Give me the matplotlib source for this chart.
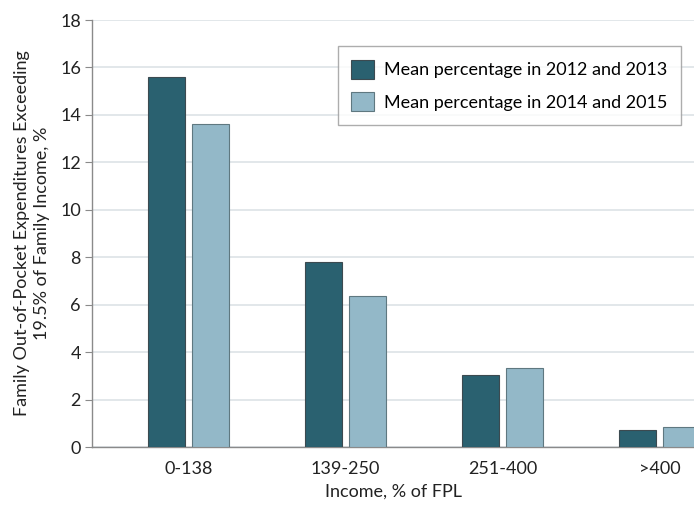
import matplotlib.pyplot as plt
import numpy as np

plt.rcParams['font.family'] = ['Lato', 'DejaVu Sans']

categories = ['0-138', '139-250', '251-400', '>400']
mean_2012_2013 = [15.6, 7.78, 3.05, 0.73]
mean_2014_2015 = [13.62, 6.38, 3.33, 0.84]

dark = '#2a6170'
light = '#93b8c8'
grid = '#dde3e6'
axis_gray = '#8a8a8a'

fig = plt.figure(figsize=(6.94, 5.08), dpi=100)
ax = fig.add_axes([0.1326, 0.12, 0.8674, 0.8406])

x = np.arange(len(categories))
w = 0.236
ax.bar(x - 0.14, mean_2012_2013, w, color=dark, edgecolor='#3c4a50', linewidth=0.8,
       label='Mean percentage in 2012 and 2013', zorder=3)
ax.bar(x + 0.14, mean_2014_2015, w, color=light, edgecolor='#5f7880', linewidth=0.8,
       label='Mean percentage in 2014 and 2015', zorder=3)

ax.set_xlim(-0.615, 3.22)
ax.set_ylim(0, 18)
ax.set_yticks(range(0, 19, 2))
ax.set_xticks(x)
ax.set_xticklabels(categories)
ax.yaxis.grid(True, color=grid, linewidth=1.2, zorder=0)
ax.set_axisbelow(True)

for s in ['top', 'right']:
    ax.spines[s].set_visible(False)
for s in ['left', 'bottom']:
    ax.spines[s].set_color(axis_gray)
    ax.spines[s].set_linewidth(1.0)

ax.tick_params(axis='y', length=5, color=axis_gray, labelsize=13, pad=3, labelcolor='#222222')
ax.tick_params(axis='x', length=0, labelsize=13, pad=10, labelcolor='#222222')

ax.set_ylabel('Family Out-of-Pocket Expenditures Exceeding\n19.5% of Family Income, %',
              fontsize=13, color='#222222', labelpad=7, linespacing=1.35)
ax.set_xlabel('Income, % of FPL', fontsize=13, color='#222222', labelpad=5)

leg = ax.legend(loc='upper right', bbox_to_anchor=(0.978, 0.939), borderaxespad=0,
                fontsize=13, frameon=True, fancybox=False, edgecolor='#999999',
                handlelength=1.25, handleheight=1.25, borderpad=0.75,
                labelspacing=0.75, handletextpad=0.55)
leg.get_frame().set_linewidth(1.0)

fig.savefig('out.png', dpi=100)
